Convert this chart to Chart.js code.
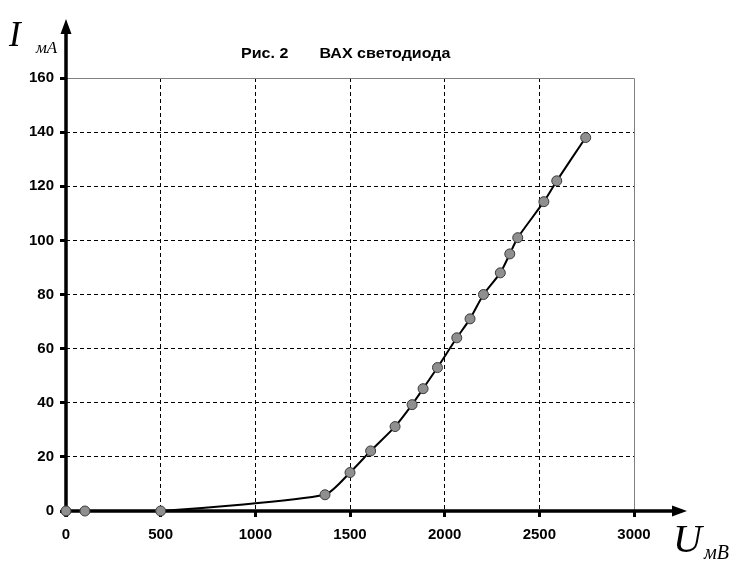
<!DOCTYPE html>
<html>
<head>
<meta charset="utf-8">
<script src="https://cdn.jsdelivr.net/npm/chart.js@4.4.1/dist/chart.umd.min.js"></script>
<style>
  body { margin: 0; background: #fff; }
  #wrap { position: relative; width: 743px; height: 569px; }
  .lbl { position: absolute; font-family: "Liberation Serif", "DejaVu Serif", serif; font-style: italic; line-height: 1; white-space: nowrap; color: #000; }
  .title { position: absolute; font-family: "Liberation Sans", Arial, sans-serif; font-weight: bold; font-size: 15px; line-height: 1; white-space: pre; transform: scaleX(1.07); transform-origin: left top; }
</style>
</head>
<body>
<div id="wrap">
  <canvas id="vax"></canvas>
  <span class="title" style="left:241px; top:45px;">Рис. 2       ВАХ светодиода</span>
  <span class="lbl" style="left:9px; top:17px; font-size:35px;">I</span>
  <span class="lbl" style="left:36px; top:39px; font-size:17px;">мА</span>
  <span class="lbl" style="left:673px; top:519px; font-size:40px;">U</span>
  <span class="lbl" style="left:704px; top:542px; font-size:20px;">мВ</span>
</div>
<script>
// Напряжение, мВ
const voltage = [0, 100, 500, 1368, 1500, 1609, 1738, 1828, 1886, 1962, 2064, 2134, 2205, 2294, 2344, 2386, 2524, 2592, 2745];
// Ток, мА
const current = [0, 0, 0, 6.0, 14.2, 22.2, 31.2, 39.3, 45.2, 53.0, 64.0, 71.0, 80.0, 88.0, 95.0, 101.0, 114.3, 122.0, 138.0];

const xTicks = [0, 500, 1000, 1500, 2000, 2500, 3000];
const yTicks = [0, 20, 40, 60, 80, 100, 120, 140, 160];

const points = voltage.map((u, i) => ({ x: u, y: current[i] }));

// Оси со стрелками и серая рамка сверху и справа
const axesPlugin = {
    id: 'axesArrows',
    beforeDatasetsDraw(chart) {
        const ctx = chart.ctx;
        const area = chart.chartArea;
        const x0 = chart.scales.x.getPixelForValue(0);
        const y0 = chart.scales.y.getPixelForValue(0);
        ctx.save();
        // рамка
        ctx.strokeStyle = '#808080';
        ctx.lineWidth = 1;
        ctx.beginPath();
        ctx.moveTo(area.left, area.top + 0.5);
        ctx.lineTo(area.right + 0.5, area.top + 0.5);
        ctx.lineTo(area.right + 0.5, area.bottom);
        ctx.stroke();
        // оси
        ctx.strokeStyle = '#000';
        ctx.fillStyle = '#000';
        ctx.lineWidth = 3.5;
        ctx.beginPath();
        ctx.moveTo(x0, area.bottom + 6);
        ctx.lineTo(x0, area.top - 50);
        ctx.moveTo(x0 - 1, y0);
        ctx.lineTo(area.right + 44, y0);
        ctx.stroke();
        // стрелки
        ctx.beginPath();
        ctx.moveTo(x0, area.top - 59);
        ctx.lineTo(x0 - 5.5, area.top - 44);
        ctx.lineTo(x0 + 5.5, area.top - 44);
        ctx.closePath();
        ctx.fill();
        ctx.beginPath();
        ctx.moveTo(area.right + 53, y0);
        ctx.lineTo(area.right + 38, y0 - 5.5);
        ctx.lineTo(area.right + 38, y0 + 5.5);
        ctx.closePath();
        ctx.fill();
        ctx.restore();
    }
};

const tickFont = { family: '"Liberation Sans", Arial, sans-serif', size: 15, weight: 'bold' };

new Chart(document.getElementById('vax'), {
    type: 'scatter',
    data: {
        datasets: [{
            data: points,
            showLine: true,
            clip: false,
            borderColor: '#000',
            borderWidth: 2,
            tension: 0.2,
            pointRadius: 5,
            pointBackgroundColor: '#8f8f8f',
            pointBorderColor: '#3a3a3a',
            pointBorderWidth: 1
        }]
    },
    options: {
        responsive: true,
        maintainAspectRatio: false,
        animation: false,
        layout: { padding: { left: 0, right: 109, top: 78, bottom: 0 } },
        plugins: { legend: { display: false }, tooltip: { enabled: false } },
        scales: {
            x: {
                type: 'linear',
                min: 0,
                max: 3000,
                afterBuildTicks: axis => { axis.ticks = xTicks.map(v => ({ value: v })); },
                afterFit: axis => { axis.height = 58; },
                ticks: { color: '#000', font: tickFont, padding: 9, maxRotation: 0, callback: v => String(v) },
                grid: {
                    color: c => (c.tick.value === 0 || c.tick.value === 3000) ? 'rgba(0,0,0,0)' : '#000',
                    lineWidth: 1,
                    tickColor: '#000',
                    tickWidth: 3,
                    tickLength: 6
                },
                border: { display: false, dash: [4, 3] }
            },
            y: {
                min: 0,
                max: 160,
                afterBuildTicks: axis => { axis.ticks = yTicks.map(v => ({ value: v })); },
                afterFit: axis => { axis.width = 66; },
                ticks: { color: '#000', font: tickFont, padding: 6, callback: v => String(v) },
                grid: {
                    color: c => (c.tick.value === 0 || c.tick.value === 160) ? 'rgba(0,0,0,0)' : '#000',
                    lineWidth: 1,
                    tickColor: '#000',
                    tickWidth: 3,
                    tickLength: 6
                },
                border: { display: false, dash: [4, 3] }
            }
        }
    },
    plugins: [axesPlugin]
});
</script>
</body>
</html>
